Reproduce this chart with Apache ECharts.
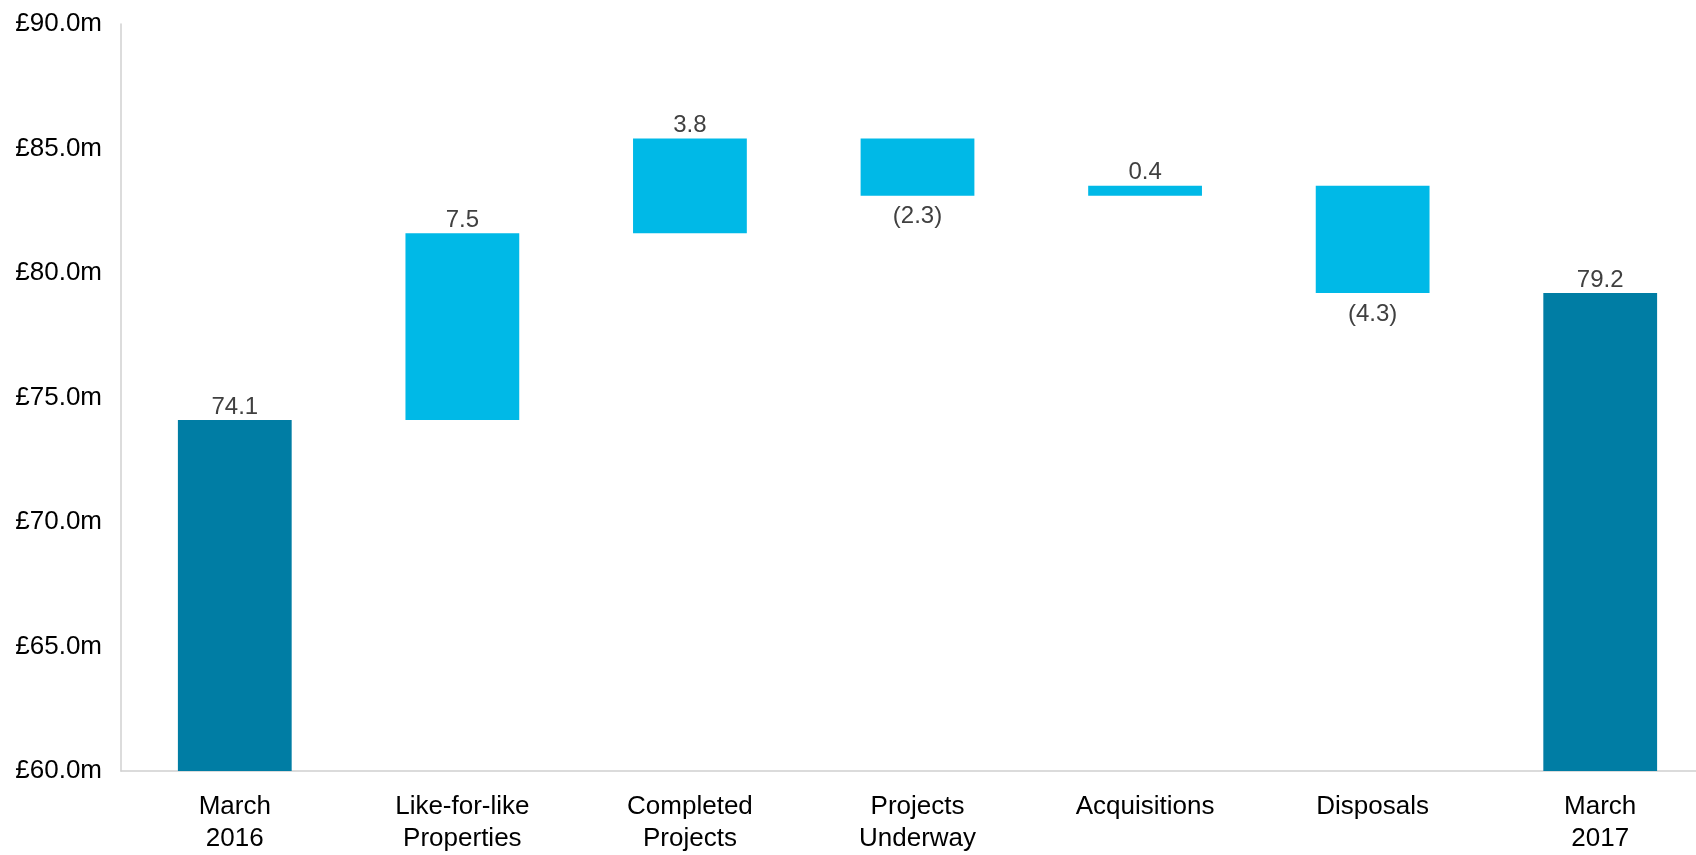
<!DOCTYPE html>
<html>
<head>
<meta charset="utf-8">
<title>Net rental income bridge</title>
<script src="https://cdn.jsdelivr.net/npm/echarts@6/dist/echarts.min.js"></script>
<style>
  html, body { margin: 0; padding: 0; background: #ffffff; overflow: hidden; }
  /* plot area runs past the right edge of the window, like the original slide */
  #chart { width: 1714px; height: 855px; }
</style>
</head>
<body>
<div id="chart"></div>
<script>
// Bridge from March 2016 to March 2017 (£m)
const categories = ['March\n2016', 'Like-for-like\nProperties', 'Completed\nProjects', 'Projects\nUnderway', 'Acquisitions', 'Disposals', 'March\n2017'];
const startTotal = 74.1;
const movements = [7.5, 3.8, -2.3, 0.4, -4.3];
const endTotal = 79.2;
const yTicks = { min: 60, max: 90, interval: 5 };

const TOTAL_COLOR = '#007DA4';
const MOVE_COLOR = '#00B9E7';
const FONT = '"Liberation Sans", Arial, sans-serif';

// Build invisible base + visible segment for each column
const baseData = [];
const barData = [];
baseData.push(0);
barData.push({ value: startTotal, raw: startTotal, itemStyle: { color: TOTAL_COLOR } });
let running = startTotal;
movements.forEach(m => {
  const next = running + m;
  const low = Math.min(running, next);
  baseData.push(+low.toFixed(2));
  barData.push({ value: Math.abs(m), raw: m, itemStyle: { color: MOVE_COLOR },
    label: m < 0 ? { position: 'bottom', distance: 9 } : { position: 'top' } });
  running = next;
});
baseData.push(0);
barData.push({ value: endTotal, raw: endTotal, itemStyle: { color: TOTAL_COLOR } });

const fmtMove = v => v < 0 ? '(' + Math.abs(v).toFixed(1) + ')' : v.toFixed(1);

const chart = echarts.init(document.getElementById('chart'), null, { renderer: 'canvas' });
chart.setOption({
  animation: false,
  backgroundColor: '#ffffff',
  textStyle: { fontFamily: FONT },
  grid: { left: 121, right: 0, top: 24, bottom: 79.5, containLabel: false },
  xAxis: {
    type: 'category',
    data: categories,
    axisLine: { show: true, lineStyle: { color: '#D0D0D0', width: 1.5 } },
    axisTick: { show: false },
    axisLabel: {
      interval: 0,
      color: '#000000',
      fontSize: 26,
      lineHeight: 32,
      margin: 20,
      fontFamily: FONT
    }
  },
  yAxis: {
    type: 'value',
    min: yTicks.min,
    max: yTicks.max,
    interval: yTicks.interval,
    axisLine: { show: true, lineStyle: { color: '#D0D0D0', width: 1.5 } },
    axisTick: { show: false },
    splitLine: { show: false },
    axisLabel: {
      color: '#000000',
      fontSize: 26,
      margin: 19,
      fontFamily: FONT,
      formatter: v => '£' + v.toFixed(1) + 'm'
    }
  },
  series: [
    {
      type: 'bar',
      stack: 'bridge',
      data: baseData,
      itemStyle: { color: 'transparent' },
      emphasis: { disabled: true },
      barCategoryGap: '50%',
      silent: true
    },
    {
      type: 'bar',
      stack: 'bridge',
      data: barData,
      barCategoryGap: '50%',
      label: {
        show: true,
        position: 'top',
        distance: 1,
        color: '#404040',
        fontSize: 24,
        fontFamily: FONT,
        formatter: p => fmtMove(p.data.raw)
      }
    }
  ]
});
</script>
</body>
</html>
